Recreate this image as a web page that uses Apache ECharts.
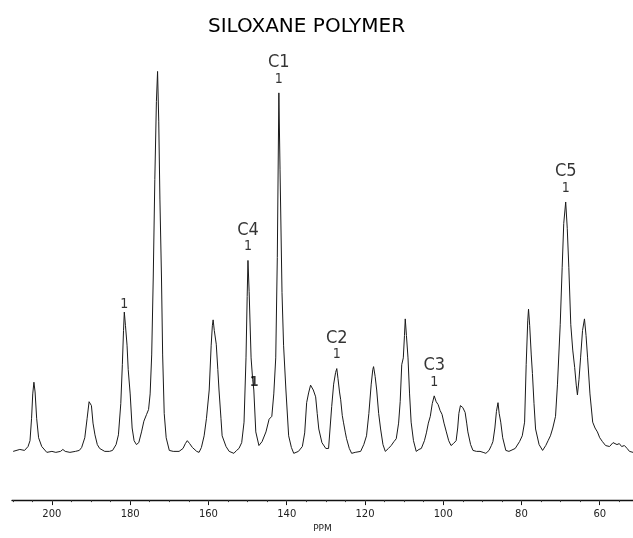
<!DOCTYPE html>
<html>
<head>
<meta charset="utf-8">
<script src="https://cdn.jsdelivr.net/npm/echarts@6/dist/echarts.min.js"></script>
<style>
html,body{margin:0;padding:0;background:#fff;}
#chart{width:633px;height:538px;}
</style>
</head>
<body>
<div id="chart"></div>
<script>
const shiftPpm = [
209.9,208.2,207.0,206.1,205.6,205.2,204.9,204.6,204.3,203.9,203.4,202.6,201.3,200.0,199.0,197.8,197.2,196.6,195.4,194.0,
193.0,192.4,191.6,191.0,190.5,190.2,189.9,189.5,189.0,188.4,187.8,186.5,185.3,184.5,183.6,183.0,182.4,182.0,181.7,181.5,
181.2,180.8,180.5,180.0,179.5,179.0,178.4,177.8,177.1,176.5,175.8,175.3,174.9,174.5,174.1,173.7,173.3,173.0,172.7,172.4,
172.0,171.7,171.3,170.8,170.0,169.0,167.5,166.5,165.9,165.4,164.8,164.1,163.0,162.4,161.8,161.1,160.5,159.8,159.3,159.0,
158.8,158.5,158.0,157.6,157.3,156.8,156.5,155.5,154.7,153.5,152.8,152.2,151.5,150.9,150.4,150.1,149.9,149.6,149.1,148.7,
148.4,147.9,147.1,146.3,145.3,144.5,143.8,143.3,142.8,142.4,142.0,141.7,141.2,140.8,140.2,139.5,138.8,138.2,137.0,136.0,
135.4,134.9,134.4,133.9,133.6,133.2,132.6,132.2,131.8,131.0,130.0,129.3,128.5,128.0,127.5,127.2,126.9,126.5,126.2,125.8,
125.5,125.0,124.7,124.0,123.4,122.5,121.1,120.3,119.6,119.0,118.4,118.0,117.8,117.4,117.0,116.5,116.0,115.4,114.8,114.0,
113.3,112.6,112.0,111.4,111.0,110.6,110.2,109.9,109.7,109.4,109.0,108.6,108.2,107.6,106.9,106.2,105.6,104.8,104.3,103.8,
103.3,102.8,102.3,101.8,101.3,100.8,100.3,99.8,99.2,98.6,98.0,97.4,96.7,96.3,96.0,95.6,95.4,95.0,94.4,94.0,
93.7,93.0,92.4,91.5,90.6,89.8,89.1,88.3,87.7,87.3,86.8,86.4,86.0,85.7,85.3,84.8,84.0,83.2,82.7,81.6,
80.5,79.8,79.2,78.8,78.4,78.2,77.9,77.5,77.2,76.8,76.4,75.5,74.6,73.8,73.2,72.6,72.0,71.3,70.8,70.1,
69.6,69.2,68.7,68.3,67.9,67.4,66.9,66.4,66.0,65.7,65.3,64.9,64.4,63.9,63.5,63.1,62.5,61.8,61.2,60.6,
60.0,59.3,58.5,57.5,57.0,56.6,56.2,55.6,55.0,54.4,53.7,53.0,52.4,51.5
];
// Signal intensity (arbitrary units above baseline) at each sampled shift
const intensity = [
1,3,2,6,12,35,60,72,62,35,15,6,0,1,0,1,3,1,0,1,
2,5,15,35,52,54,48,30,18,8,4,1,1,2,8,18,50,90,125,144,
130,110,85,60,25,12,8,10,21,32,39,44,60,100,180,280,360,391,340,260,
180,100,40,15,2,1,1,4,9,12,9,5,1,0,5,17,35,64,110,130,
136,125,111,85,64,35,17,6,1,-1,2,4,10,31,97,160,197,165,97,75,
64,21,7,11,21,34,37,60,97,200,369,290,164,110,64,17,5,-1,1,6,
20,51,61,69,71,64,57,40,24,10,4,4,47,70,82,86,76,62,54,38,
31,20,14,4,-1,0,1,8,17,40,70,85,88,78,64,40,24,8,1,4,
7,11,14,30,52,90,97,120,137,120,97,60,31,12,1,3,4,12,20,30,
37,50,58,52,49,43,39,30,21,12,7,9,12,25,40,48,50,46,41,30,
21,8,2,1,1,0,-1,2,7,11,25,42,51,40,31,15,2,1,1,4,
11,17,31,90,135,147,130,100,81,50,24,8,2,7,12,17,25,37,70,131,
190,235,257,230,190,131,105,87,69,59,75,97,125,137,120,97,60,31,25,21,
15,11,7,6,8,10,12,8,9,6,7,4,1,0
];
// Axis tick labels
const majorTicks = [200,180,160,140,120,100,80,60];
const minorTicks = [210,205,200,195,190,185,180,175,170,165,160,155,150,145,140,135,130,125,120,115,110,105,100,95,90,85,80,75,70,65,60,55];
// Peak assignments
const peakNames = ['C1','C4','C2','C3','C5'];
const peakPpm = [142.0, 149.9, 127.2, 102.3, 68.7];
const peakHeight = [369, 197, 86, 58, 257];
// Unlabelled markers
const markerPpm = [181.5];
const markerHeight = [144];
const flankMarkPpm = [148.3];
const flankMarkHeight = [72];

const FONT = 'DejaVu Sans';
const NARROW = '"Liberation Sans Narrow", "DejaVu Sans Condensed", "DejaVu Sans"';
const chart = echarts.init(document.getElementById('chart'));
const lineData = shiftPpm.map((p, i) => [p, intensity[i]]);
const peakData = peakPpm.map((p, i) => [p, peakHeight[i], peakNames[i]]);
const markerData = markerPpm.map((p, i) => [p, markerHeight[i]]);
const flankData = flankMarkPpm.map((p, i) => [p, flankMarkHeight[i]]);

chart.setOption({
  animation: false,
  backgroundColor: '#ffffff',
  title: {
    text: 'SILOXANE POLYMER',
    left: 203, top: 12,
    textStyle: {fontFamily: FONT, fontSize: 20, fontWeight: 'normal', color: '#000'}
  },
  grid: {left: 12, right: 0, top: 13, bottom: 25, containLabel: false},
  xAxis: [{
    type: 'value', inverse: true, min: 51.5, max: 210.2,
    name: 'PPM', nameLocation: 'middle', nameGap: 20,
    nameTextStyle: {fontFamily: FONT, fontSize: 9, color: '#222'},
    axisLine: {show: true, onZero: false, lineStyle: {color: '#111', width: 1.3}},
    axisTick: {show: true, inside: false, length: 5, customValues: majorTicks, lineStyle: {color: '#111'}},
    axisLabel: {show: true, customValues: majorTicks, margin: 9, fontFamily: FONT, fontSize: 10, color: '#222'},
    splitLine: {show: false}
  }, {
    type: 'value', inverse: true, min: 51.5, max: 210.2, position: 'bottom',
    axisLine: {show: false, onZero: false},
    axisTick: {show: true, length: 2, customValues: minorTicks, lineStyle: {color: '#333'}},
    axisLabel: {show: false},
    splitLine: {show: false}
  }],
  yAxis: {type: 'value', min: -49, max: 451, show: false, splitLine: {show: false}},
  series: [{
    type: 'line', data: lineData, showSymbol: false, symbol: 'none',
    lineStyle: {color: '#1a1a1a', width: 1}, z: 2
  }, {
    type: 'scatter', data: peakData, symbolSize: 0, z: 3,
    label: {
      show: true, position: 'top', distance: 7,
      formatter: p => '{n|' + p.value[2] + '}\n{m|1}',
      rich: {
        n: {fontFamily: NARROW, fontSize: 18, lineHeight: 19, color: '#000', align: 'center'},
        m: {fontFamily: NARROW, fontSize: 14, lineHeight: 14, color: '#000', align: 'center'}
      }
    }
  }, {
    type: 'scatter', data: markerData, symbolSize: 0, z: 3,
    label: {show: true, position: 'top', distance: 1, formatter: '1',
      fontFamily: NARROW, fontSize: 14, color: '#000'}
  }, {
    type: 'scatter', data: flankData, symbolSize: 0, z: 3,
    label: {show: true, position: 'inside', formatter: '1',
      fontFamily: NARROW, fontSize: 14, fontWeight: 'bold', color: '#000'}
  }]
});
</script>
</body>
</html>
